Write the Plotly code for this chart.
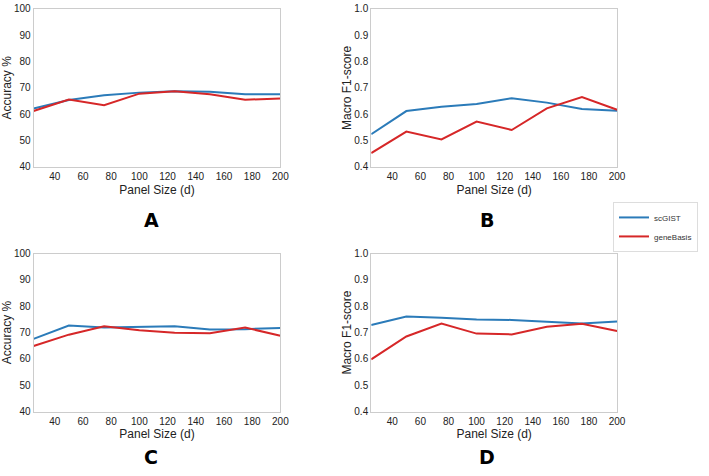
import plotly.graph_objects as go

x_sizes = [25, 50, 75, 100, 125, 150, 175, 200]

a_scgist = [62.2, 65.4, 67.2, 68.2, 68.7, 68.5, 67.6, 67.6]
a_genebasis = [61.2, 65.6, 63.4, 67.8, 68.7, 67.6, 65.5, 66.0]

b_scgist = [0.524, 0.612, 0.628, 0.639, 0.661, 0.644, 0.620, 0.613]
b_genebasis = [0.452, 0.534, 0.504, 0.572, 0.540, 0.622, 0.665, 0.617]

c_scgist = [67.6, 72.7, 71.9, 72.2, 72.4, 71.2, 71.3, 71.7]
c_genebasis = [64.9, 69.2, 72.4, 70.9, 69.95, 69.7, 71.9, 68.8]

d_scgist = [0.729, 0.761, 0.756, 0.750, 0.748, 0.740, 0.734, 0.742]
d_genebasis = [0.598, 0.685, 0.734, 0.696, 0.693, 0.722, 0.733, 0.706]

x_ticks = [40, 60, 80, 100, 120, 140, 160, 180, 200]
acc_ticks = [40, 50, 60, 70, 80, 90, 100]
f1_ticks = [0.4, 0.5, 0.6, 0.7, 0.8, 0.9, 1.0]
f1_ticktext = ["0.4", "0.5", "0.6", "0.7", "0.8", "0.9", "1.0"]
panel_letters = ["A", "B", "C", "D"]

BLUE = "#2b7bb9"
RED = "#d62728"
W, H = 709, 476
FONT = "Liberation Sans, Arial, sans-serif"

fig = go.Figure()

panels = [
    (a_scgist, a_genebasis, "x", "y"),
    (b_scgist, b_genebasis, "x2", "y2"),
    (c_scgist, c_genebasis, "x3", "y3"),
    (d_scgist, d_genebasis, "x4", "y4"),
]
for i, (s, g, xa, ya) in enumerate(panels):
    fig.add_trace(go.Scatter(x=x_sizes, y=s, mode="lines", name="scGIST",
                             line=dict(color=BLUE, width=2), xaxis=xa, yaxis=ya,
                             showlegend=(i == 0)))
    fig.add_trace(go.Scatter(x=x_sizes, y=g, mode="lines", name="geneBasis",
                             line=dict(color=RED, width=2), xaxis=xa, yaxis=ya,
                             showlegend=(i == 0)))

# pixel domains
xdom_left = [34 / W, 284 / W]
xdom_right = [376 / W, 625 / W]
ydom_top = [1 - 165 / H, 1 - 3 / H]
ydom_bot = [1 - 416 / H, 1 - 254 / H]

def xaxis(domain, anchor):
    return dict(domain=domain, anchor=anchor, range=[25, 200], tickvals=x_ticks,
                showgrid=False, zeroline=False, showline=True, mirror=True,
                linecolor="#cccccc", linewidth=1, ticks="",
                tickfont=dict(size=10, color="#222222", family=FONT),
                title=dict(text="Panel Size (d)", standoff=4,
                           font=dict(size=12, color="#222222", family=FONT)))

def yaxis(domain, anchor, acc):
    d = dict(domain=domain, anchor=anchor, showgrid=False, zeroline=False,
             showline=True, mirror=True, linecolor="#cccccc", linewidth=1, ticks="",
             tickfont=dict(size=10, color="#222222", family=FONT))
    if acc:
        d.update(range=[40, 100], tickvals=acc_ticks,
                 title=dict(text="Accuracy %", standoff=0,
                            font=dict(size=12, color="#222222", family=FONT)))
    else:
        d.update(range=[0.4, 1.0], tickvals=f1_ticks, ticktext=f1_ticktext,
                 title=dict(text="Macro F1-score", standoff=0,
                            font=dict(size=12, color="#222222", family=FONT)))
    return d

fig.update_layout(
    width=W, height=H,
    margin=dict(l=0, r=0, t=0, b=0),
    paper_bgcolor="white", plot_bgcolor="white",
    xaxis=xaxis(xdom_left, "y"), yaxis=yaxis(ydom_top, "x", True),
    xaxis2=xaxis(xdom_right, "y2"), yaxis2=yaxis(ydom_top, "x2", False),
    xaxis3=xaxis(xdom_left, "y3"), yaxis3=yaxis(ydom_bot, "x3", True),
    xaxis4=xaxis(xdom_right, "y4"), yaxis4=yaxis(ydom_bot, "x4", False),
    legend=dict(x=707 / W, y=1 - 201 / H, xanchor="right", yanchor="top",
                bordercolor="#dddddd", borderwidth=1, bgcolor="white",
                font=dict(size=8, color="#333333", family=FONT),
                itemwidth=30, tracegroupgap=0),
    showlegend=True,
)

letter_pos = [(153, 220), (493, 220)]
for letter, (px, py) in zip(panel_letters[:2], letter_pos):
    fig.add_annotation(x=px / W, y=1 - py / H, xref="paper", yref="paper",
                       text=f"<b>{letter}</b>", showarrow=False,
                       font=dict(size=19, color="black", family="DejaVu Sans, sans-serif"),
                       xanchor="center", yanchor="middle")
for letter, px in zip(panel_letters[2:], [153, 493]):
    fig.add_annotation(x=px / W, y=0, xref="paper", yref="paper",
                       text=f"<b>{letter}</b>", showarrow=False,
                       font=dict(size=19, color="black", family="DejaVu Sans, sans-serif"),
                       xanchor="center", yanchor="bottom")

fig.write_html("out.html",
               config={"displayModeBar": False},
               post_script="document.body.style.margin='0px';document.body.style.overflow='hidden';")
